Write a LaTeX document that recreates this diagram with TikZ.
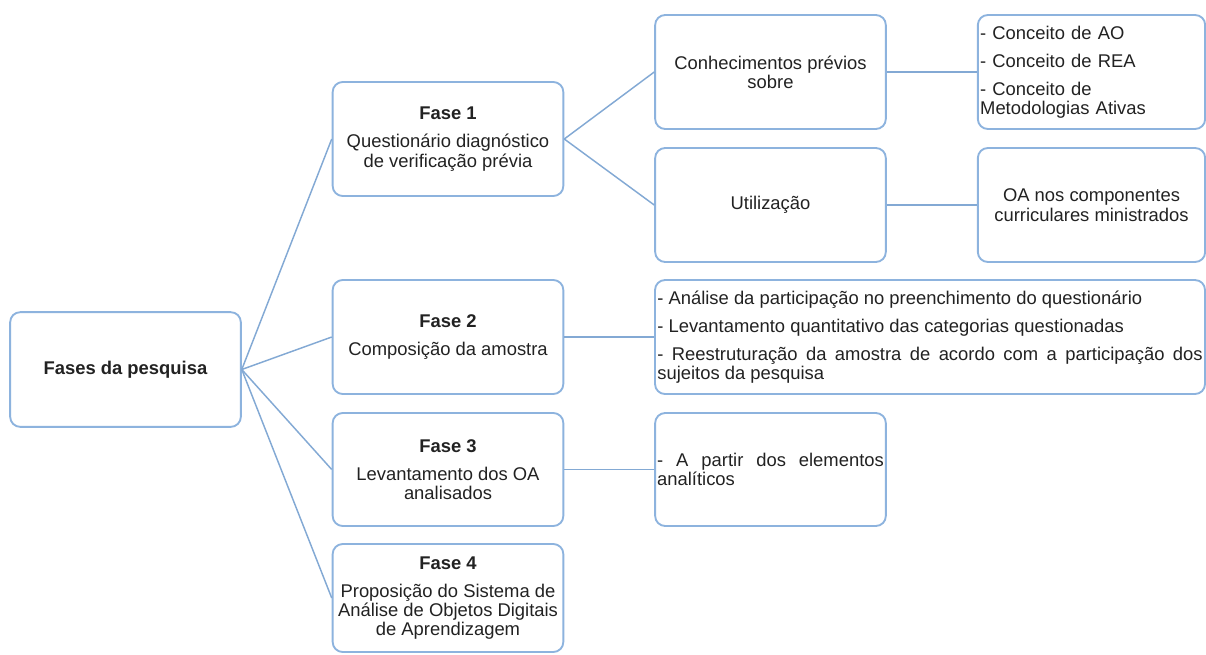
\documentclass[tikz,border=0pt]{standalone}
\usepackage{fontspec}
\setmainfont{Liberation Sans}
\usetikzlibrary{positioning}
\definecolor{boxblue}{HTML}{8DB3DE}
\definecolor{edgeblue}{HTML}{83A9D4}
\definecolor{ink}{HTML}{222222}
\newcommand{\nextitem}{\\[6.5pt]}

\begin{document}
\begin{tikzpicture}[
    x=0.75pt, y=-0.75pt,
    stage/.style={
      draw=boxblue,
      line width=1.4pt,
      fill=white,
      rounded corners=7.5pt,
      minimum width=173pt,
      minimum height=85.5pt,
      inner sep=1.5pt,
      text=ink,
      align=center,
      font=\fontsize{13.8}{14.5}\selectfont
    },
    notes/.style={stage, text width=167pt, align=left},
    link/.style={draw=edgeblue, line width=1.1pt}
  ]
  \useasboundingbox (0,0) rectangle (1206,654);

  % root and phases
  \node[stage, minimum height=86pt] (root) at (125.5,369.5) {\textbf{Fases da pesquisa}};
  \node[stage] (fase1) at (448,139) {\textbf{Fase 1}\nextitem Questionário diagnóstico\\de verificação prévia};
  \node[stage] (fase2) at (448,337) {\textbf{Fase 2}\nextitem Composição da amostra};
  \node[stage, minimum height=84.75pt] (fase3) at (448,469.5) {\textbf{Fase 3}\nextitem Levantamento dos OA\\analisados};
  \node[stage, minimum height=81pt] (fase4) at (448,598) {\textbf{Fase 4}\nextitem Proposição do Sistema de\\Análise de Objetos Digitais\\de Aprendizagem};

  % second level
  \node[stage] (prior) at (770.5,72) {Conhecimentos prévios\\sobre};
  \node[stage] (usage) at (770.5,205) {Utilização};
  \node[stage, minimum width=412.5pt, text width=409pt, align=justify] (sample) at (930,337)
    {- Análise da participação no preenchimento do questionário\nextitem
     - Levantamento quantitativo das categorias questionadas\nextitem
     - Reestruturação da amostra de acordo com a participação dos\linebreak sujeitos da pesquisa};
  \node[stage, minimum height=84.75pt, text width=170pt, align=justify] (survey) at (770.5,469.5)
    {- A partir dos elementos\linebreak analíticos};

  % third level
  \node[notes, minimum width=170.5pt] (concepts) at (1091.5,72)
    {- Conceito de AO\nextitem - Conceito de REA\nextitem - Conceito de\\Metodologias Ativas};
  \node[stage, minimum width=170.5pt] (subjects) at (1091.5,205) {OA nos componentes\\curriculares ministrados};

  % connectors
  \foreach \f in {fase1,fase2,fase3,fase4}
    \draw[link] (root.east) -- (\f.west);
  \draw[link] (fase1.east) -- (prior.west);
  \draw[link] (fase1.east) -- (usage.west);
  \draw[link] (prior.east) -- (concepts.west);
  \draw[link] (usage.east) -- (subjects.west);
  \draw[link] (fase2.east) -- (sample.west);
  \draw[link] (fase3.east) -- (survey.west);
\end{tikzpicture}
\end{document}
